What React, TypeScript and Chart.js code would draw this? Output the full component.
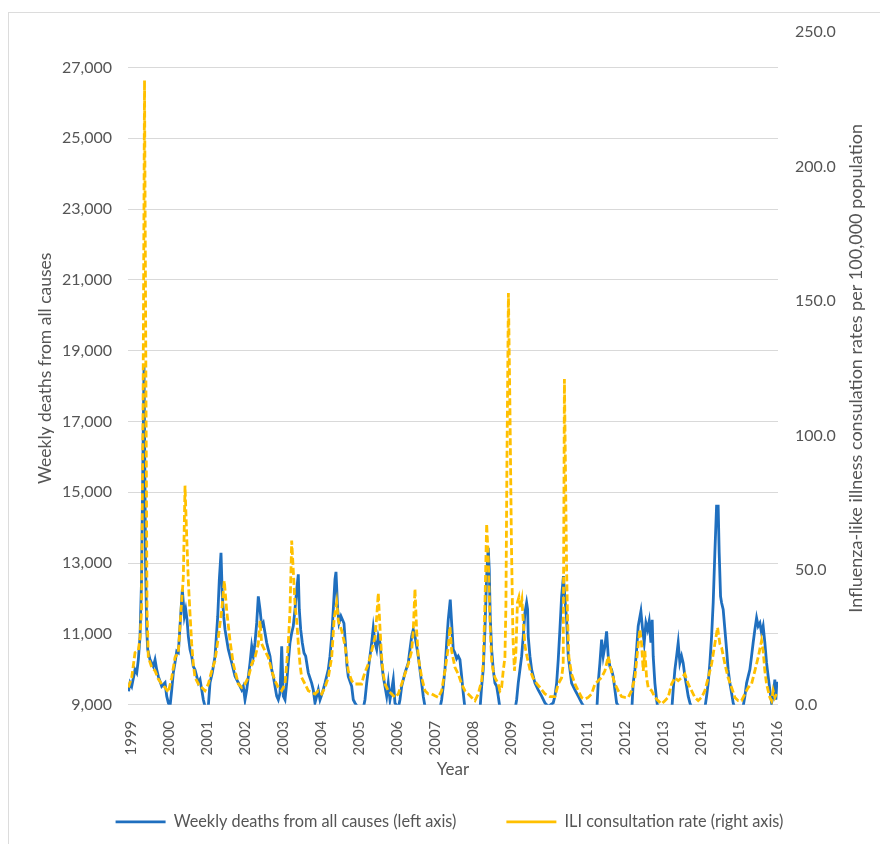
import React, { useEffect, useRef } from "react";
import { Chart, registerables } from "chart.js";

Chart.register(...registerables);

const yearTicks = [1999, 2000, 2001, 2002, 2003, 2004, 2005, 2006, 2007, 2008, 2009, 2010, 2011, 2012, 2013, 2014, 2015, 2016];
const deathTicks = [9000, 11000, 13000, 15000, 17000, 19000, 21000, 23000, 25000, 27000];
const iliTicks = [0, 50, 100, 150, 200, 250];

const deathYears = [
  1998.934, 1998.974, 1999.018, 1999.105, 1999.15, 1999.192, 1999.237, 1999.276, 1999.303, 1999.342, 1999.382, 1999.413, 1999.439, 1999.5, 1999.587, 1999.632, 1999.676, 1999.718, 1999.808, 1999.895, 1999.939, 1999.982,
  2000.026, 2000.071, 2000.113, 2000.158, 2000.203, 2000.245, 2000.289, 2000.35, 2000.403, 2000.439, 2000.474, 2000.508, 2000.553, 2000.597, 2000.639, 2000.684, 2000.729, 2000.771, 2000.816, 2000.861, 2000.903, 2000.947,
  2001.034, 2001.079, 2001.139, 2001.211, 2001.282, 2001.324, 2001.368, 2001.403, 2001.439, 2001.474, 2001.561, 2001.65, 2001.737, 2001.824, 2001.913, 2001.955,
  2002.0, 2002.045, 2002.132, 2002.176, 2002.218, 2002.263, 2002.308, 2002.35, 2002.395, 2002.439, 2002.482, 2002.526, 2002.571, 2002.613, 2002.658, 2002.703, 2002.745, 2002.789, 2002.834, 2002.876, 2002.921, 2002.966,
  2003.008, 2003.053, 2003.097, 2003.139, 2003.184, 2003.229, 2003.271, 2003.316, 2003.361, 2003.403, 2003.429, 2003.466, 2003.508, 2003.553, 2003.597, 2003.666, 2003.755, 2003.797, 2003.842, 2003.929, 2003.974,
  2004.034, 2004.105, 2004.192, 2004.237, 2004.282, 2004.324, 2004.368, 2004.395, 2004.439, 2004.474, 2004.526, 2004.605, 2004.645, 2004.684, 2004.718, 2004.808, 2004.85, 2004.895, 2004.982,
  2005.113, 2005.158, 2005.203, 2005.245, 2005.289, 2005.334, 2005.376, 2005.421, 2005.466, 2005.508, 2005.553, 2005.597, 2005.639, 2005.684, 2005.729, 2005.771, 2005.816, 2005.861, 2005.903, 2005.947,
  2006.034, 2006.079, 2006.124, 2006.211, 2006.297, 2006.342, 2006.387, 2006.429, 2006.474, 2006.518, 2006.561, 2006.605, 2006.65, 2006.692, 2006.737, 2006.921,
  2007.132, 2007.176, 2007.218, 2007.263, 2007.308, 2007.35, 2007.403, 2007.439, 2007.482, 2007.526, 2007.571, 2007.613, 2007.658, 2007.703, 2007.745, 2007.789,
  2008.184, 2008.229, 2008.271, 2008.316, 2008.361, 2008.403, 2008.429, 2008.455, 2008.492, 2008.534, 2008.579, 2008.624, 2008.666, 2008.711,
  2009.105, 2009.15, 2009.192, 2009.237, 2009.282, 2009.324, 2009.368, 2009.413, 2009.439, 2009.455, 2009.5, 2009.545, 2009.632, 2009.718, 2009.808, 2009.895, 2009.982,
  2010.113, 2010.158, 2010.203, 2010.245, 2010.289, 2010.334, 2010.382, 2010.421, 2010.466, 2010.508, 2010.553, 2010.597, 2010.684, 2010.771, 2010.861, 2010.947,
  2011.263, 2011.297, 2011.342, 2011.387, 2011.429, 2011.474, 2011.518, 2011.561, 2011.605, 2011.65, 2011.692, 2011.737, 2011.782, 2011.868,
  2012.184, 2012.218, 2012.263, 2012.308, 2012.35, 2012.421, 2012.466, 2012.508, 2012.553, 2012.597, 2012.639, 2012.684, 2012.718, 2012.745, 2012.789, 2012.834, 2012.868,
  2013.237, 2013.271, 2013.316, 2013.361, 2013.403, 2013.447, 2013.492, 2013.534, 2013.579, 2013.624, 2013.666, 2013.711, 2013.763,
  2014.105, 2014.15, 2014.192, 2014.237, 2014.282, 2014.324, 2014.368, 2014.413, 2014.455, 2014.482, 2014.518, 2014.545, 2014.587, 2014.632, 2014.676, 2014.718, 2014.763, 2014.808, 2014.85, 2014.895,
  2015.105, 2015.158, 2015.203, 2015.245, 2015.289, 2015.334, 2015.376, 2015.421, 2015.466, 2015.508, 2015.553, 2015.597, 2015.639, 2015.684, 2015.729, 2015.771, 2015.816, 2015.861, 2015.903, 2015.947, 2015.974, 2016.0,
];

const deathValues = [
  9380, 9620, 9520, 9990, 9900, 10270, 10930, 12500, 15000, 18600, 13000, 11120, 10560, 10270, 10080, 10270, 9990, 9800, 9520, 9620, 9240, 9050,
  8950, 9420, 9900, 10190, 10510, 10470, 11220, 12250, 11500, 11690, 11400, 10930, 10560, 10370, 10080, 9990, 9800, 9620, 9710, 9420, 9140, 8950,
  8950, 9620, 9900, 10370, 11500, 12540, 13290, 12060, 11500, 11120, 10560, 10190, 9800, 9620, 9420, 9520,
  9140, 9420, 10180, 10650, 10370, 10750, 11310, 12060, 11690, 11220, 11310, 11030, 10750, 10560, 10370, 9990, 9800, 9520, 9240, 9140, 9330, 10650,
  9240, 9140, 9610, 10180, 10750, 11030, 11220, 11690, 12250, 12680, 11690, 11120, 10750, 10460, 10370, 9900, 9610, 9420, 9050, 9420, 9140,
  9330, 9610, 9990, 10370, 10930, 11690, 12540, 12750, 11690, 11310, 11500, 11300, 10700, 10100, 9800, 9520, 9140, 9050, 8900,
  8900, 9140, 9610, 9990, 10370, 10750, 11170, 10750, 10560, 10930, 10750, 10180, 9800, 9520, 9240, 9610, 9140, 9420, 9710, 9050,
  8900, 9140, 9520, 9900, 10180, 10560, 10930, 11120, 10930, 10650, 10370, 9990, 9610, 9240, 8950, 8850,
  8900, 9140, 9520, 9990, 10750, 11400, 11970, 11310, 10560, 10460, 10300, 10370, 10270, 9800, 9330, 8900,
  8850, 9520, 9990, 11120, 12630, 13430, 12820, 11500, 10560, 9990, 9610, 9520, 9240, 8900,
  8850, 9140, 9610, 9990, 10370, 10930, 11590, 11880, 11690, 10930, 10370, 9990, 9610, 9420, 9240, 9050, 8950,
  9050, 9240, 9610, 10270, 11120, 12060, 12630, 12000, 11400, 10370, 9990, 9610, 9420, 9240, 9050, 8900,
  8900, 9610, 10180, 10840, 10370, 10650, 11070, 10370, 10080, 9990, 9800, 9420, 9050, 8900,
  8900, 9610, 9990, 10560, 11220, 11640, 11120, 10750, 11310, 11120, 11360, 10750, 11400, 10370, 9610, 9140, 8900,
  8900, 9420, 9990, 10370, 10750, 10180, 10370, 10180, 9800, 9520, 9240, 9050, 8900,
  8900, 9240, 9610, 10180, 10930, 11880, 13290, 14610, 14610, 13290, 12060, 11880, 11690, 11120, 10560, 9990, 9610, 9330, 9050, 8900,
  8900, 9240, 9610, 9800, 9990, 10370, 10750, 11120, 11450, 11220, 11310, 11030, 11220, 10750, 10180, 9800, 9420, 9050, 9240, 9710, 9140, 9650,
];

const iliYears = [
  1998.929, 1999.018, 1999.105, 1999.192, 1999.237, 1999.276, 1999.316, 1999.355, 1999.395, 1999.421, 1999.455, 1999.545, 1999.632, 1999.718, 1999.808, 1999.895, 1999.982,
  2000.071, 2000.158, 2000.245, 2000.316, 2000.376, 2000.421, 2000.466, 2000.508, 2000.553, 2000.597, 2000.639, 2000.684, 2000.771, 2000.861, 2000.947,
  2001.034, 2001.124, 2001.211, 2001.297, 2001.387, 2001.455, 2001.518, 2001.605, 2001.692, 2001.782, 2001.824, 2001.913,
  2002.0, 2002.087, 2002.176, 2002.263, 2002.35, 2002.395, 2002.439, 2002.526, 2002.613, 2002.703, 2002.789, 2002.876, 2002.966,
  2003.053, 2003.097, 2003.139, 2003.184, 2003.229, 2003.271, 2003.316, 2003.361, 2003.403, 2003.447, 2003.492, 2003.579, 2003.666, 2003.755, 2003.842, 2003.929,
  2004.018, 2004.105, 2004.192, 2004.282, 2004.35, 2004.413, 2004.455, 2004.545, 2004.632, 2004.718, 2004.808, 2004.895,
  2005.071, 2005.113, 2005.158, 2005.245, 2005.334, 2005.421, 2005.466, 2005.508, 2005.553, 2005.597, 2005.639, 2005.684, 2005.771, 2005.861, 2005.947,
  2006.034, 2006.124, 2006.211, 2006.297, 2006.387, 2006.429, 2006.474, 2006.518, 2006.561, 2006.65, 2006.737, 2006.824, 2006.913,
  2007.0, 2007.087, 2007.176, 2007.263, 2007.35, 2007.395, 2007.439, 2007.526, 2007.613, 2007.703, 2007.789, 2007.876, 2007.966,
  2008.053, 2008.139, 2008.229, 2008.271, 2008.316, 2008.361, 2008.403, 2008.447, 2008.492, 2008.534, 2008.579, 2008.666, 2008.711, 2008.755, 2008.797, 2008.842, 2008.868, 2008.895, 2008.934, 2008.974,
  2009.013, 2009.053, 2009.092, 2009.132, 2009.171, 2009.211, 2009.25, 2009.289, 2009.329, 2009.368, 2009.421, 2009.5, 2009.579, 2009.684, 2009.763, 2009.895,
  2010.026, 2010.158, 2010.245, 2010.334, 2010.376, 2010.408, 2010.466, 2010.492, 2010.526, 2010.597, 2010.684, 2010.771, 2010.861, 2010.947,
  2011.034, 2011.124, 2011.211, 2011.297, 2011.387, 2011.474, 2011.561, 2011.65, 2011.737, 2011.824, 2011.913,
  2012.0, 2012.087, 2012.176, 2012.263, 2012.334, 2012.395, 2012.439, 2012.482, 2012.526, 2012.571, 2012.613, 2012.703, 2012.789, 2012.876, 2012.966,
  2013.053, 2013.139, 2013.229, 2013.316, 2013.403, 2013.492, 2013.579, 2013.666, 2013.755, 2013.842, 2013.929,
  2014.018, 2014.105, 2014.192, 2014.282, 2014.368, 2014.439, 2014.5, 2014.545, 2014.632, 2014.718, 2014.808, 2014.895, 2014.982,
  2015.071, 2015.158, 2015.245, 2015.334, 2015.421, 2015.508, 2015.597, 2015.639, 2015.684, 2015.729, 2015.771, 2015.816, 2015.861, 2015.903, 2015.947, 2015.987,
];

const iliValues = [
  6.4, 10.1, 19.4, 20.1, 25, 35, 110, 232, 110, 35, 17.6, 13.9, 12.6, 9.5, 7.7, 6.4, 4.6,
  10.1, 17.6, 19.4, 35, 47.3, 81.4, 62.2, 46, 33.7, 22.6, 15.1, 10.1, 7.7, 6.4, 5.2,
  7.7, 12.6, 16.4, 25, 35, 46, 35, 23.8, 15.1, 10.1, 7.7, 6.4,
  7.7, 10.1, 15.1, 17.6, 22.6, 31.2, 22.6, 20, 17.6, 12.6, 8.9, 6.4, 5.2,
  7.7, 15.1, 22.6, 35, 61, 49.8, 37.4, 31.2, 22.6, 15.1, 10.1, 7.7, 5.2, 4.6, 4, 5.2,
  4, 6.4, 10.1, 17.6, 32.5, 38, 31.2, 27.5, 22, 12.6, 8.9, 7.7,
  7.7, 10.1, 12, 15.1, 20, 25, 32.5, 41.5, 28.7, 17.6, 11.4, 7.7, 5.2, 4, 2.7,
  4, 7.7, 11.4, 15.1, 20, 27.5, 43, 27.5, 17.6, 10.1, 5.2, 4, 4,
  3.3, 2.7, 5.2, 12.6, 21.3, 29, 20, 13.9, 11.4, 7.7, 5.2, 4, 2.7,
  1.5, 4, 8.9, 15.1, 37.4, 67.2, 54.8, 31.2, 16.4, 12.6, 10.1, 7.7, 5.2, 6.4, 12.6, 17.6, 37, 90, 153, 110,
  60, 25, 12.6, 20, 38, 40, 36, 39, 30, 22, 18, 13, 10, 7.7, 6.4, 4,
  3, 3, 7.7, 10, 15, 121, 49.8, 31, 17.6, 11.4, 7.7, 5.2, 2.7, 2.1,
  2.7, 4, 7.7, 8.9, 10.1, 12.6, 18, 12, 7.7, 5.2, 3,
  2.7, 2.7, 5.2, 10, 20, 28, 22.6, 12.6, 20, 10, 6.4, 5.2, 2.7, 1.5, 0.3,
  1.5, 2.7, 7.7, 10, 8.9, 10, 11.4, 7.7, 5.2, 2.7, 1.5,
  2.7, 5.2, 10, 15.1, 22.6, 28.7, 22.6, 21.3, 15.1, 10, 6.4, 2.7, 1.5,
  1.5, 4, 6.4, 7.7, 12.6, 17.6, 23.8, 20, 12.6, 7.7, 5.2, 2.7, 1.5, 5.2, 2.7, 4,
];

const FONT = "Lato, 'Liberation Sans', Arial, sans-serif";
const TEXT = "#555555";
const BLUE = "#1F6FBF";
const GOLD = "#FFC000";
const RIGHT_TITLE = "Influenza-like illness consulation rates per 100,000 population";

export default function App() {
  const ref = useRef<HTMLCanvasElement | null>(null);

  useEffect(() => {
    if (!ref.current) return;

    const rightTitlePlugin = {
      id: "rightTitle",
      afterDraw(chart: any) {
        const { ctx, chartArea } = chart;
        const yR = chart.scales.yR;
        ctx.save();
        ctx.font = `18px ${FONT}`;
        ctx.fillStyle = TEXT;
        ctx.textAlign = "center";
        ctx.textBaseline = "middle";
        ctx.translate(yR.right - 13, (chartArea.top + chartArea.bottom) / 2);
        ctx.rotate(-Math.PI / 2);
        ctx.fillText(RIGHT_TITLE, 0, 0);
        ctx.restore();
      },
    };

    const chart = new Chart(ref.current, {
      type: "line",
      data: {
        datasets: [
          {
            label: "Weekly deaths from all causes (left axis)",
            data: deathYears.map((x, i) => ({ x, y: deathValues[i] })),
            borderColor: BLUE,
            backgroundColor: BLUE,
            borderWidth: 2.8,
            pointRadius: 0,
            tension: 0,
            yAxisID: "yL",
            order: 1,
          },
          {
            label: "ILI consultation rate (right axis)",
            data: iliYears.map((x, i) => ({ x, y: iliValues[i] })),
            borderColor: GOLD,
            backgroundColor: GOLD,
            borderWidth: 2.8,
            borderDash: [7, 3],
            pointRadius: 0,
            tension: 0,
            yAxisID: "yR",
            order: 0,
          },
        ],
      },
      options: {
        responsive: false,
        animation: false,
        events: [],
        layout: { padding: { left: 30, right: 11, top: 32, bottom: 4 } },
        scales: {
          x: {
            type: "linear",
            min: 1998.92,
            max: 2016.03,
            afterBuildTicks: (s: any) => {
              s.ticks = yearTicks.map((v) => ({ value: v }));
            },
            afterFit: (s: any) => {
              s.height = 59;
            },
            grid: { display: false },
            border: { display: false },
            ticks: {
              autoSkip: false,
              minRotation: 90,
              maxRotation: 90,
              padding: 8,
              color: TEXT,
              font: { family: FONT, size: 15 },
              callback: (v: any) => String(v),
            },
            title: {
              display: true,
              text: "Year",
              color: TEXT,
              font: { family: FONT, size: 17 },
              padding: { top: 0, bottom: -16 },
            },
          },
          yL: {
            type: "linear",
            position: "left",
            min: 9000,
            max: 28000,
            afterBuildTicks: (s: any) => {
              s.ticks = deathTicks.map((v) => ({ value: v }));
            },
            afterFit: (s: any) => {
              s.width = 98;
            },
            grid: { color: "#d9d9d9", lineWidth: 1, drawTicks: false },
            border: { display: false },
            ticks: {
              padding: 16,
              color: TEXT,
              font: { family: FONT, size: 16 },
              callback: (v: any) => Number(v).toLocaleString("en-US"),
            },
            title: {
              display: true,
              text: "Weekly deaths from all causes",
              color: TEXT,
              font: { family: FONT, size: 17.5 },
              padding: { top: 5, bottom: 0 },
            },
          },
          yR: {
            type: "linear",
            position: "right",
            min: 0,
            max: 250,
            afterBuildTicks: (s: any) => {
              s.ticks = iliTicks.map((v) => ({ value: v }));
            },
            afterFit: (s: any) => {
              s.width = 91;
            },
            grid: { display: false, drawTicks: false },
            border: { display: false },
            ticks: {
              padding: 17,
              color: TEXT,
              font: { family: FONT, size: 16 },
              callback: (v: any) => Number(v).toFixed(1),
            },
          },
        },
        plugins: {
          legend: {
            display: true,
            position: "bottom",
            labels: {
              usePointStyle: true,
              pointStyle: "line",
              pointStyleWidth: 50,
              padding: 50,
              color: TEXT,
              font: { family: FONT, size: 16.3 },
              sort: (a: any, b: any) => a.datasetIndex - b.datasetIndex,
            },
          },
          tooltip: { enabled: false },
        },
      },
      plugins: [rightTitlePlugin],
    } as any);

    return () => chart.destroy();
  }, []);

  return (
    <>
      <div
        style={{
          position: "fixed",
          left: 8,
          top: 12,
          width: 900,
          height: 900,
          borderLeft: "1px solid #dcdcdc",
          borderTop: "1px solid #dcdcdc",
          background: "#ffffff",
        }}
      />
      <canvas
        ref={ref}
        width={880}
        height={844}
        style={{ position: "fixed", left: 0, top: 0, width: 880, height: 844 }}
      />
    </>
  );
}
